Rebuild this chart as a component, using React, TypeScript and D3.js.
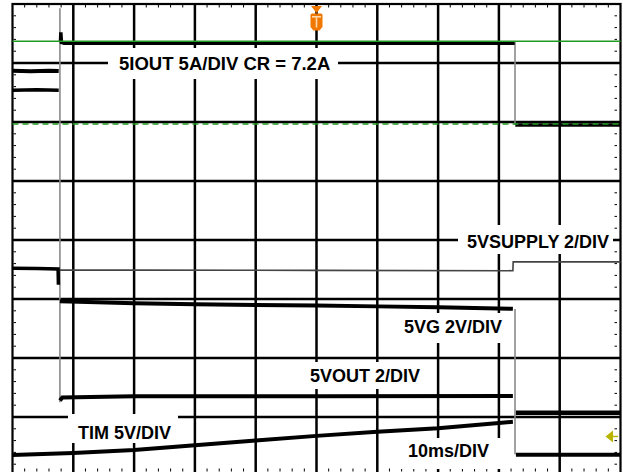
import React from "react";
import * as d3 from "d3";

const W = 623;
const H = 472;

// Horizontal: time in ms (10 ms/div); vertical: screen divisions
const timeDomain: [number, number] = [-50, 50];
const divDomain: [number, number] = [-4, 4];
const timeMajor = d3.range(-40, 41, 10);
const divMajor = d3.range(-3, 4, 1);
const timeMinor = d3.range(-50, 50.001, 2);
const divMinor = d3.range(-4, 4.001, 0.2);

const edgeOn = -42.2; // ms
const edgeOff = 32.65; // ms
const triggerTime = 0;
const triggerLevelRight = -3.33;

const refSolidLevel = 3.37;
const refDashedLevel = 1.965;

type P = [number, number];
const preUpper: P[] = [[-50, 2.87], [-47, 2.86], [-44, 2.87], [-42.4, 2.865]];
const preLower: P[] = [[-50, 2.54], [-46, 2.545], [-42.4, 2.54]];
const iout: P[] = [[-42.1, 3.37], [-42.05, 3.52], [-41.95, 3.35], [-41.5, 3.335], [32.6, 3.335]];
const ioutAfter: P[] = [[32.7, 1.95], [50, 1.95]];
const supplyPre: P[] = [[-50, -0.48], [-46, -0.485], [-42.5, -0.49], [-42.45, -0.76]];
const supplyOn: P[] = [[-42.2, -0.51], [-30, -0.51], [0, -0.515], [32.3, -0.52], [32.35, -0.37], [50, -0.37]];
const vg: P[] = [[-42.2, -1.04], [-30, -1.07], [-20, -1.09], [-10, -1.1], [0, -1.11], [10, -1.125], [20, -1.14], [32.3, -1.165]];
const vout: P[] = [[-42.2, -2.72], [-41.8, -2.67], [-30, -2.65], [0, -2.65], [32.3, -2.645]];
const tim: P[] = [[-50, -3.645], [-40, -3.61], [-30, -3.56], [-20, -3.48], [-10, -3.4], [0, -3.32], [10, -3.25], [20, -3.19], [30, -3.1], [32.3, -3.08]];
const afterUpper: P[] = [[32.8, -2.93], [50, -2.93]];
const afterLower: P[] = [[32.8, -3.64], [50, -3.64]];
// edges: time, from level, to level
const edgeTimes = [edgeOn, edgeOff, edgeOff];
const edgeFrom = [3.93, 3.37, -1.17];
const edgeTo = [-2.75, 1.95, -3.63];

const labelTexts = [
  "5IOUT 5A/DIV CR = 7.2A",
  "5VSUPPLY 2/DIV",
  "5VG 2V/DIV",
  "5VOUT 2/DIV",
  "TIM 5V/DIV",
  "10ms/DIV",
];

// layout (pixels): text start x, baseline y, font size, white box [x0,y0,x1,y1]
const labelLayout = [
  { x: 119, y: 70, fs: 18.5, box: [108, 48, 338, 79] },
  { x: 467, y: 248, fs: 18, box: [458, 225, 613, 254] },
  { x: 404, y: 333, fs: 18, box: [395, 313, 512, 343] },
  { x: 310, y: 382, fs: 18, box: [300, 362, 428, 389] },
  { x: 78, y: 438.5, fs: 18, box: [68, 414, 178, 443] },
  { x: 408, y: 457, fs: 18, box: [398, 438, 505, 469] },
];

export default function App() {
  const x = d3.scaleLinear().domain(timeDomain).range([12.5, 620.5]);
  const y = d3.scaleLinear().domain(divDomain).range([476, 4]);
  const line = d3
    .line<P>()
    .x((d) => x(d[0]))
    .y((d) => y(d[1]));

  const green = "#229a22";
  const trace = "#000";
  const font = "'Liberation Sans', Arial, sans-serif";

  return (
    <svg
      width={W}
      height={H}
      style={{ position: "absolute", left: 0, top: 0, display: "block" }}
    >
      <rect x={0} y={0} width={W} height={H} fill="#fff" />
      {timeMajor.map((t) => (
        <line key={"vx" + t} x1={x(t)} x2={x(t)} y1={y(4)} y2={y(-4)} stroke="#000" strokeWidth={2.5} />
      ))}
      {divMajor.map((v) => (
        <line key={"hy" + v} x1={x(-50)} x2={x(50)} y1={y(v)} y2={y(v)} stroke="#000" strokeWidth={2.5} />
      ))}
      <rect x={x(-50)} y={y(4)} width={x(50) - x(-50)} height={y(-4) - y(4)} fill="none" stroke="#000" strokeWidth={2.2} />
      {timeMinor.map((t) => (
        <g key={"mt" + t}>
          <line x1={x(t)} x2={x(t)} y1={y(4) + 1} y2={y(4) + 3.5} stroke="#000" strokeWidth={1} />
          <line x1={x(t)} x2={x(t)} y1={468.5} y2={471.5} stroke="#000" strokeWidth={1} />
        </g>
      ))}
      {divMinor.map((v) => (
        <g key={"mv" + v}>
          <line x1={x(-50) + 1} x2={x(-50) + 3.5} y1={y(v)} y2={y(v)} stroke="#000" strokeWidth={1} />
          <line x1={x(50) - 6} x2={x(50) - 3.5} y1={y(v)} y2={y(v)} stroke="#000" strokeWidth={1} />
        </g>
      ))}
      {labelLayout.map((l, i) => (
        <rect key={"lb" + i} x={l.box[0]} y={l.box[1]} width={l.box[2] - l.box[0]} height={l.box[3] - l.box[1]} fill="#fff" />
      ))}
      {labelTexts.map((s, i) => (
        <text key={"lt" + i} x={labelLayout[i].x} y={labelLayout[i].y} fontFamily={font} fontWeight="bold" fontSize={labelLayout[i].fs} fill="#000">
          {s}
        </text>
      ))}
      {edgeTimes.map((t, i) => (
        <line key={"e" + i} x1={x(t)} x2={x(t)} y1={y(edgeFrom[i])} y2={y(edgeTo[i])} stroke="#8a8a8a" strokeWidth={1.6} />
      ))}
      <path d={line(preUpper)!} fill="none" stroke={trace} strokeWidth={4} />
      <path d={line(preLower)!} fill="none" stroke={trace} strokeWidth={3.5} />
      <path d={line(iout)!} fill="none" stroke={trace} strokeWidth={3.5} />
      <path d={line(ioutAfter)!} fill="none" stroke={trace} strokeWidth={3.5} />
      <path d={line(supplyPre)!} fill="none" stroke={trace} strokeWidth={3.5} />
      <path d={line(supplyOn)!} fill="none" stroke="#444" strokeWidth={1.6} />
      <path d={line(vg)!} fill="none" stroke={trace} strokeWidth={4} />
      <path d={line(vout)!} fill="none" stroke={trace} strokeWidth={4} />
      <path d={line(tim)!} fill="none" stroke={trace} strokeWidth={4} />
      <path d={line(afterUpper)!} fill="none" stroke={trace} strokeWidth={4.5} />
      <path d={line(afterLower)!} fill="none" stroke={trace} strokeWidth={4} />
      <line x1={x(-50)} x2={x(50)} y1={y(refSolidLevel)} y2={y(refSolidLevel)} stroke={green} strokeWidth={1.5} />
      <line x1={x(-50)} x2={x(50)} y1={y(refDashedLevel)} y2={y(refDashedLevel)} stroke={green} strokeWidth={1.5} strokeDasharray="6,4" />
      <g transform={`translate(${x(triggerTime)},0)`}>
        <polygon points="-5.5,6 5.5,6 0,13" fill="#f07800" />
        <path d="M-6,15 Q-6,13.5 -4.5,13.5 L4.5,13.5 Q6,13.5 6,15 L6,27 L3,30.5 L-3,30.5 L-6,27 Z" fill="#f07800" />
        <rect x={-4.5} y={16} width={9} height={1.6} fill="#ffd9b0" />
        <rect x={-0.8} y={17.5} width={1.6} height={10} fill="#ffd9b0" />
      </g>
      <g transform={`translate(0,${y(triggerLevelRight)})`}>
        <polygon points="605.5,0 613,-6 613,6" fill="#b8b400" />
        <line x1={612} x2={618} y1={0} y2={0} stroke="#b8b400" strokeWidth={1.5} />
      </g>
    </svg>
  );
}
